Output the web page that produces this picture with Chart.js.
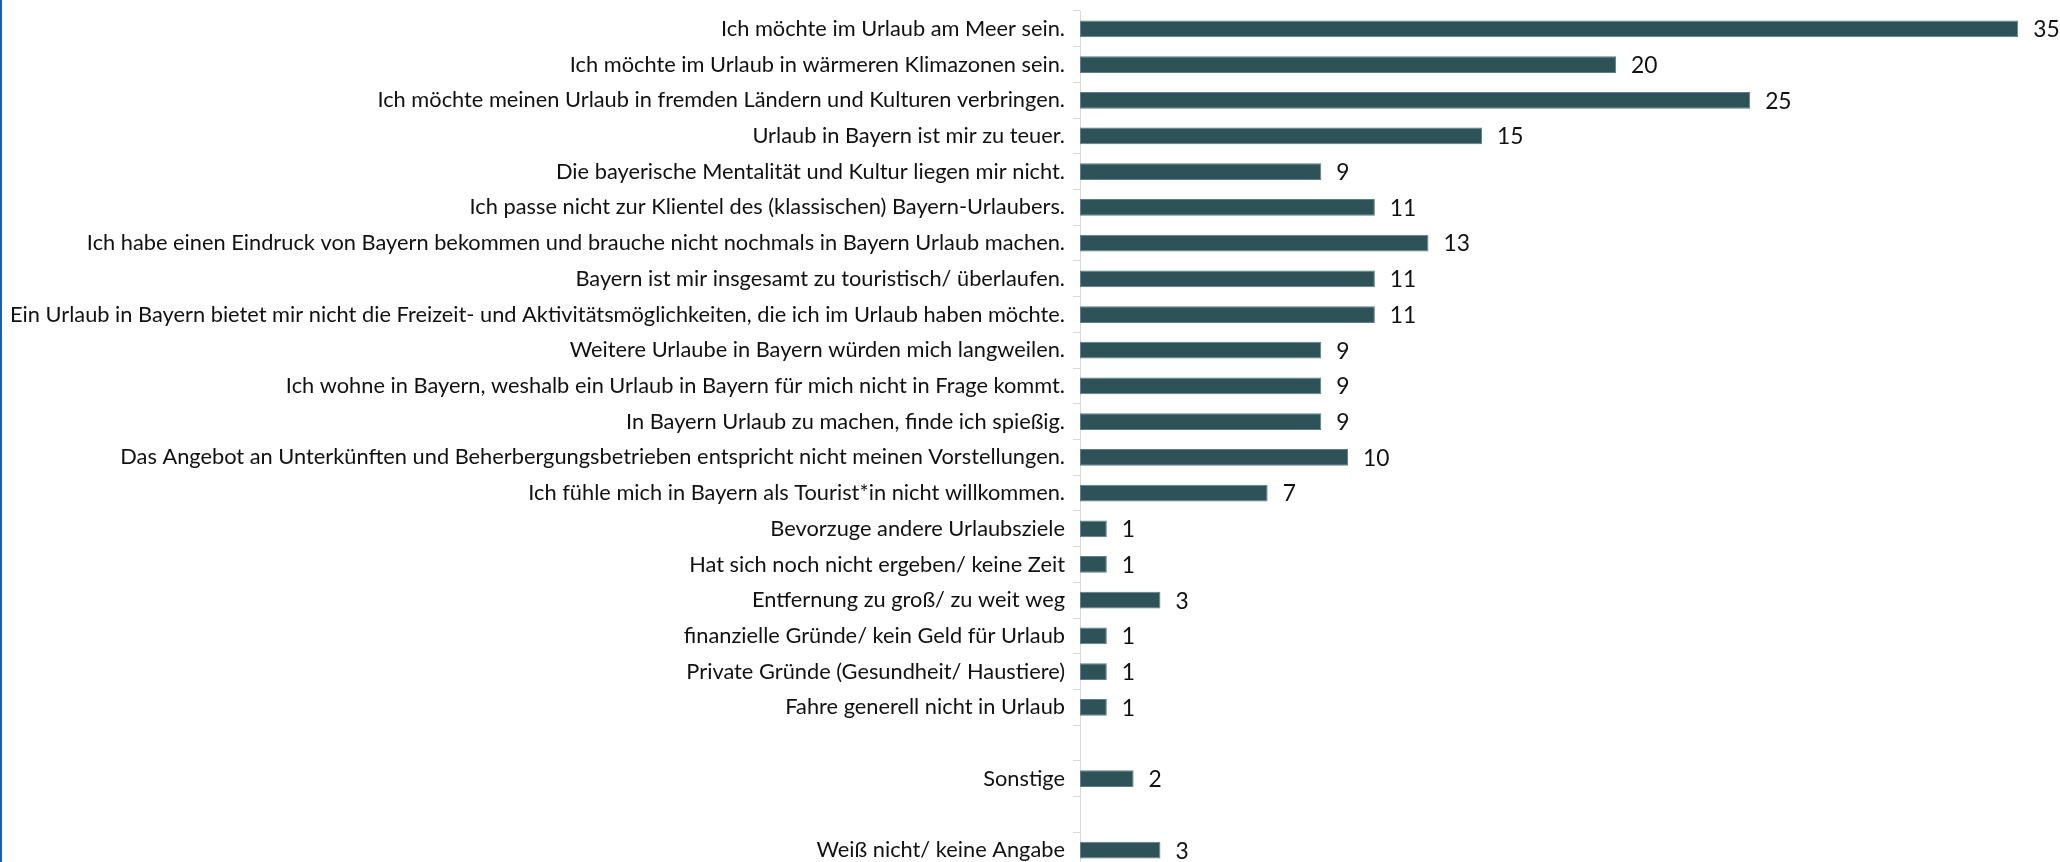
<!DOCTYPE html>
<html lang="de">
<head>
<meta charset="utf-8">
<title>Gründe gegen einen Urlaub in Bayern</title>
<script src="https://cdn.jsdelivr.net/npm/chart.js@4/dist/chart.umd.min.js"></script>
<style>
  html, body { margin: 0; padding: 0; background: #fff; overflow: hidden; }
  #wrap { position: relative; width: 2060px; height: 870px; }
  #reasons-chart { display: block; }
  #edge { position: absolute; left: 0; top: 0; width: 2px; height: 870px; background: #1f5ea8; }
</style>
</head>
<body>
<div id="wrap">
  <canvas id="reasons-chart" width="2060" height="870"></canvas>
  <div id="edge"></div>
</div>
<script>
  const categories = [
    "Ich möchte im Urlaub am Meer sein.",
    "Ich möchte im Urlaub in wärmeren Klimazonen sein.",
    "Ich möchte meinen Urlaub in fremden Ländern und Kulturen verbringen.",
    "Urlaub in Bayern ist mir zu teuer.",
    "Die bayerische Mentalität und Kultur liegen mir nicht.",
    "Ich passe nicht zur Klientel des (klassischen) Bayern-Urlaubers.",
    "Ich habe einen Eindruck von Bayern bekommen und brauche nicht nochmals in Bayern Urlaub machen.",
    "Bayern ist mir insgesamt zu touristisch/ überlaufen.",
    "Ein Urlaub in Bayern bietet mir nicht die Freizeit- und Aktivitätsmöglichkeiten, die ich im Urlaub haben möchte.",
    "Weitere Urlaube in Bayern würden mich langweilen.",
    "Ich wohne in Bayern, weshalb ein Urlaub in Bayern für mich nicht in Frage kommt.",
    "In Bayern Urlaub zu machen, finde ich spießig.",
    "Das Angebot an Unterkünften und Beherbergungsbetrieben entspricht nicht meinen Vorstellungen.",
    "Ich fühle mich in Bayern als Tourist*in nicht willkommen.",
    "Bevorzuge andere Urlaubsziele",
    "Hat sich noch nicht ergeben/ keine Zeit",
    "Entfernung zu groß/ zu weit weg",
    "finanzielle Gründe/ kein Geld für Urlaub",
    "Private Gründe (Gesundheit/ Haustiere)",
    "Fahre generell nicht in Urlaub",
    "",
    "Sonstige",
    "",
    "Weiß nicht/ keine Angabe",
  ];

  const counts = [35, 20, 25, 15, 9, 11, 13, 11, 11, 9, 9, 9, 10, 7, 1, 1, 3, 1, 1, 1, null, 2, null, 3];

  const BAR_COLOR = "#2d5258";
  const AXIS_COLOR = "#d9d9d9";
  const TEXT_COLOR = "#111111";
  const FONT_FAMILY = "Lato";

  // Fit the label font so the longest answer spans the same width as in the original
  // (Calibri isn't installed, Lato is the closest relative).
  const measureCtx = document.createElement("canvas").getContext("2d");
  measureCtx.font = "20px " + FONT_FAMILY;
  const longest = Math.max.apply(null, categories.map(function (c) {
    return measureCtx.measureText(c).width;
  }));
  const fontSize = Math.min(22, 20 * 1056 / longest);

  const valueLabels = {
    id: "valueLabels",
    afterDatasetsDraw: function (chart) {
      const ctx = chart.ctx;
      const meta = chart.getDatasetMeta(0);
      ctx.save();
      ctx.font = (fontSize + 1) + "px " + FONT_FAMILY;
      ctx.fillStyle = TEXT_COLOR;
      ctx.textAlign = "left";
      ctx.textBaseline = "middle";
      meta.data.forEach(function (bar, i) {
        if (counts[i] == null) return;
        ctx.fillText(String(counts[i]), bar.x + 15, bar.y + 1);
      });
      ctx.restore();
    },
  };

  new Chart(document.getElementById("reasons-chart"), {
    type: "bar",
    data: {
      labels: categories,
      datasets: [
        {
          data: counts,
          backgroundColor: BAR_COLOR,
          borderColor: "#5d7f85",
          borderWidth: 1,
          borderSkipped: false,
          barPercentage: 0.47,
          categoryPercentage: 1,
        },
      ],
    },
    options: {
      indexAxis: "y",
      responsive: false,
      animation: false,
      layout: { padding: { left: 8, top: 11, right: 15, bottom: 2 } },
      plugins: {
        legend: { display: false },
        tooltip: { enabled: false },
      },
      scales: {
        x: {
          display: false,
          min: 0,
          max: 36,
        },
        y: {
          afterFit: function (scale) {
            scale.width = 1072;
            // rows sit in the category offset already, no extra room for label halves
            scale.paddingTop = 0;
            scale.paddingBottom = 0;
          },
          grid: {
            drawOnChartArea: false,
            offset: true,
            color: AXIS_COLOR,
            tickLength: 7,
          },
          border: { color: AXIS_COLOR, width: 1 },
          ticks: {
            autoSkip: false,
            padding: 8,
            color: TEXT_COLOR,
            font: { family: FONT_FAMILY, size: fontSize },
          },
        },
      },
    },
    plugins: [valueLabels],
  });
</script>
</body>
</html>
